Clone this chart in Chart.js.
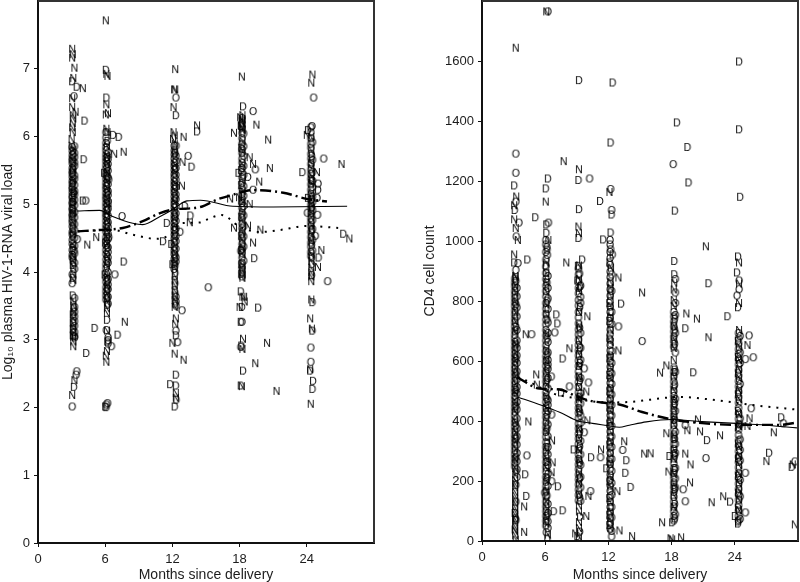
<!DOCTYPE html>
<html>
<head>
<meta charset="utf-8">
<style>
  html, body { margin: 0; padding: 0; background: #fff; }
  #viralChart, #cd4Chart { position: absolute; top: 0; }
  #viralChart { left: 0; }
  #cd4Chart { left: 422px; }
</style>
<script src="https://cdn.jsdelivr.net/npm/chart.js@4"></script>
</head>
<body>
<canvas id="viralChart" width="376" height="582"></canvas>
<canvas id="cd4Chart" width="378" height="582"></canvas>
<script>
// [months, log10 viral load]
const viralN3 = [[3.05,7.28],[3.1,7.2],[3.05,7.15],[3.25,7],[3.15,6.85],[4,6.7],[3.05,6.55],[3.05,6.42],[3.35,6.35],[3.1,6.3],[3.15,6.25],[3.1,6.18],[3.05,6.12],[3.1,6.05],[3,5.95],[3,5.85],[4.4,4.39],[3.25,2.39],[3.05,2.17]];
const viralD3 = [[3.05,6.8],[3.45,6.72],[4.15,6.22],[4.07,5.65],[3.1,5.5],[3.2,5.15],[3.1,4.85],[3.25,4.3],[3.1,3.9],[3.2,3.45],[3.1,3.05],[3.3,3.02],[3.2,2.29],[4.3,2.79],[4,5.04]];
const viralO3 = [[3.2,6.58],[4.25,5.04],[3.5,4.47],[3.45,2.52],[3.4,2.47],[3.05,2]];
const viralN6 = [[6.05,7.7],[6.1,6.91],[6.2,6.88],[6.1,6.46],[6.05,6.31],[6.25,6.33],[6.1,6.1],[6.2,6.05],[6.8,5.73],[7.65,5.76],[6.3,5],[7.75,3.25],[6.15,2.82],[6.05,2.75],[6.1,2.66],[5.2,4.5]];
const viralD6 = [[6.05,6.97],[6.1,6.56],[6.7,6.01],[7.2,5.98],[5.9,5.45],[6.35,4.5],[6,4.42],[7.65,4.14],[5.95,3.95],[6.15,3.28],[7.1,3.06],[5.05,3.16],[6,2],[6.1,1.99]];
const viralO6 = [[6.85,3.95],[6.1,3.13],[6.55,2.89],[6.1,2.03],[6.2,2.05],[7.5,4.81],[6.3,5.35]];
const viralN12 = [[12.25,6.98],[12.15,6.68],[12.25,6.68],[12.1,6.42],[12.1,6.05],[12.2,6],[12.05,5.95],[13,5.98],[12.9,5.61],[12.85,5.26],[13.55,4.72],[12.3,3.3],[12.25,3.22],[12,2.94],[12.2,2.78],[13,2.69],[12.3,2.2],[12.3,2.13],[14.2,6.15]];
const viralD12 = [[12.3,6.3],[12.35,5.85],[13.7,5.54],[13.1,4.96],[13.6,4.82],[12.7,4.58],[11.5,4.71],[11.15,4.44],[11.9,4.4],[12,4.1],[12.3,3.05],[12.3,2.47],[11.8,2.33],[12.3,2.31],[12.35,2.1],[12.2,2],[14.2,6.06]];
const viralO12 = [[12.3,6.56],[13.4,5.7],[12.85,3.42],[12.45,2.95],[12.3,3.12],[15.2,3.76]];
const viralN18 = [[18.2,6.87],[18.05,6.27],[18.2,6.22],[18.1,6.15],[18.25,6.1],[19.5,6.16],[17.5,6.04],[20.55,5.94],[18.9,5.68],[19.2,5.58],[20.7,5.52],[19.75,5.32],[17.15,5.07],[17.95,5.09],[18.9,4.99],[17.5,4.64],[18.75,4.67],[19.85,4.61],[19.2,4.42],[18.4,3.62],[18.45,3.55],[18,3.47],[18.3,3],[18.25,2.85],[20.45,2.94],[19.4,2.64],[18.2,2.3],[21.3,2.23]];
const viralD18 = [[18.3,6.43],[17.9,5.45],[18.75,5.39],[19.3,4.19],[18.1,3.7],[19.65,3.46],[18.2,3.47],[18.1,3.25],[18.15,2.9],[18.3,2.53],[18.1,2.31]];
const viralO18 = [[19.2,6.36],[19.4,5.5],[19.2,5.2],[18.1,4.3],[18.2,3.25],[18.1,2.88]];
const viralN24 = [[24.5,6.9],[24.4,6.78],[24,6.01],[24.9,5.46],[27.1,5.58],[27.8,4.48],[25.3,4.31],[25,4.06],[24.3,3.3],[24.45,3.15],[24.3,2.55],[24.35,2.04]];
const viralD24 = [[24.1,6.08],[23.6,5.46],[25,5.2],[24.1,5.08],[25.05,4.2],[24.5,3.54],[24.5,3.12],[24.3,2.53],[24.55,2.38],[24.5,2.26],[27.25,4.55]];
const viralO24 = [[24.6,6.56],[24.45,6.14],[25.5,5.66],[25,5.29],[24.9,5.08],[24.05,4.86],[24.95,4.83],[24.75,4.52],[25.85,3.85],[24.35,2.87],[24.35,2.66]];

// the packed bars of each visit: y values per plotted month
const viralBarO3a = [5.83,5.77,5.71,5.66,5.63,5.59,5.52,5.47,5.44,5.39,5.33,5.29,5.24,5.21,5.16,5.11,5.08,5.02,4.99,4.93,4.9,4.84,4.81,4.76,4.72,4.66,4.58,4.54,4.46,4.4,4.31,4.24,4.2,3.95,3.82];
const viralBarO3b = [5.84,5.74,5.68,5.6,5.55,5.41,5.36,5.27,5.18,5.13,5.05,4.97,4.87,4.79,4.69,4.6,4.49,4.37,4.26,4.12,4.03,3.6,3.47,3.4,3.33,3.26,3.19,3.1,3.04];
const viralBarN3 = [5.79,5.62,5.5,5.34,5.17,5.03,4.86,4.71,4.55,4.38,4.22,4.15,4.06,3.95,3.87,3.56,3.49,3.39,3.31,3.22,3.16,3.09,3.03,2.96,2.89];
const viralBarD3 = [5.72,5.44,5.3,5.02,4.92,4.63,4.52,4.34,4.17,4.09,3.64,3.36,3.24,3.14];
const viralBarO6a = [6.05,5.97,5.89,5.83,5.78,5.72,5.67,5.62,5.56,5.51,5.45,5.41,5.36,5.3,5.25,5.21,5.15,5.1,5.06,5,4.95,4.89,4.84,4.8,4.74,4.68,4.63,4.58,4.5,4.44,4.38,4.31,4.25,4.17,4.1,4.04,3.97,3.9,3.84,3.76,3.7,3.64,3.58];
const viralBarO6b = [5.75,5.65,5.58,5.48,5.38,5.28,5.18,5.12,5.03,4.92,4.82,4.72,4.65,4.55,4.47,4.35,4.28,4.2,4.12,3.98,3.88,3.8,3.73,3.62,3.52,3.02,2.98,2.93];
const viralBarN6 = [5.85,5.7,5.6,5.46,5.33,5.22,5.08,4.98,4.86,4.75,4.6,4.5,4.4,4.22,4.08,3.92,3.78,3.66,3.55,3.45,3.38,3.12];
const viralBarD6 = [5.92,5.68,5.53,5.4,5.16,4.9,4.7,4.34,4.15,3.86,3.74,3.6,3.5,2.96];
const viralBarO12a = [5.85,5.78,5.72,5.66,5.6,5.55,5.49,5.43,5.38,5.32,5.27,5.21,5.16,5.1,5.04,4.99,4.94,4.88,4.82,4.77,4.71,4.65,4.6,4.54,4.48,4.42,4.36,4.3,4.25,4.18,4.11,4.03];
const viralBarO12b = [5.7,5.62,5.52,5.42,5.35,5.24,5.13,5.06,4.96,4.85,4.74,4.63,4.52,4.44,4.33,4.2,4.14,3.62,3.55,3.49];
const viralBarN12 = [5.88,5.76,5.58,5.46,5.3,5.18,5.02,4.9,4.78,4.66,4.5,4.38,4.27,4.15,4.05,3.93,3.86,3.79,3.71,3.64,3.57,3.47];
const viralBarD12 = [5.74,5.51,5.25,5.08,4.8,4.61,4.23,4.08,3.97,3.82,3.68,3.52];
const viralBarO18a = [6.26,6.19,6.12,6.04,5.96,5.88,5.8,5.74,5.66,5.6,5.52,5.46,5.38,5.3,5.22,5.14,5.07,5,4.93,4.85,4.78,4.7,4.63,4.55,4.48,4.4,4.33,4.27,4.2,4.12,4.05,3.98,3.92];
const viralBarO18b = [6.03,5.84,5.7,5.55,5.42,5.25,5.11,4.96,4.82,4.66,4.51,4.36,4.15];
const viralBarN18 = [6.3,6.24,6.18,6.08,5.92,5.77,5.58,5.34,5.18,5.03,4.88,4.74,4.58,4.45,4.35,4.25,4.08,4.02,3.95,3.9,3.62];
const viralBarD18 = [6.14,5.82,5.49,5.27,5.04,4.8,4.52,4.31,4.1,3.96];
const viralBarO24a = [6.12,6.05,5.96,5.88,5.82,5.73,5.66,5.58,5.5,5.43,5.36,5.28,5.2,5.13,5.05,4.98,4.92,4.85,4.78,4.72,4.66,4.58,4.5,4.42,4.36,4.28,4.22];
const viralBarO24b = [5.9,5.64,5.46,5.33,5.24,5.1,5.02,4.9,4.75,4.62,4.46,4.3];
const viralBarN24 = [5.98,5.78,5.6,5.52,5.4,5.3,5.15,5,4.88,4.8,4.68,4.55,4.45,4.25,4.15,4.05,3.98,3.92,3.85,3.58];
const viralBarD24 = [5.7,5.34,5.06,4.94,4.6,4.39,4.2,4.1,3.94];

// [months, CD4 count]
const cd4N3 = [[3.2,1641],[3.25,1145],[3.05,1116],[3.05,1069],[3.2,1040],[3.4,1000],[3.05,952],[3.2,877],[4.15,686],[3.2,2],[4.4,395],[4,112],[4,27],[3.1,35]];
const cd4D3 = [[3.05,1182],[3.1,1100],[3.05,925],[4.3,935],[3.1,90],[3.2,72],[4.1,219],[4.2,147]];
const cd4O3 = [[3.2,1288],[3.2,1224],[3.2,1128],[3.5,1058],[3.25,1012],[3.4,923],[3.2,900],[4.7,686],[4.25,282]];
const cd4N6 = [[6.1,1762],[6.05,1128],[6.3,1000],[6.1,925],[5.15,552],[5.2,518],[6.65,332],[6.7,259],[6.6,226],[6.25,18]];
const cd4D6 = [[6.25,1205],[6.05,1172],[5.05,1076],[6.1,1052],[6.1,1024],[6.05,916],[7.05,752],[7.15,722],[7.65,605],[6.6,545],[7.5,492],[7.2,179],[6.8,96],[6.2,5],[7.65,99]];
const cd4O6 = [[6.25,1762],[6.3,1058],[6.15,976],[6.2,950],[6.9,692],[6.6,418],[6.6,196],[5.95,158],[6.1,26]];
const cd4N9 = [[9.2,1236],[9.15,1045],[9.2,1023],[7.75,1263],[8,925],[10,746],[8.3,639],[9.9,495],[10,399],[11.3,302],[10.1,147],[9.9,80],[8.85,22]];
const cd4D9 = [[9.2,1533],[9.15,1200],[11.2,1130],[9.2,1103],[9.15,1007],[11.5,1002],[9.5,935],[9.1,914],[9.05,865],[9.4,848],[8.7,302],[10.35,276],[11.8,239],[9.05,13]];
const cd4O9 = [[10.2,1205],[9.25,888],[9.7,572],[10.1,525],[8.3,512],[9.7,359],[11.25,276],[10.3,163]];
const cd4N12 = [[12.1,1160],[12.25,908],[12.95,875],[12.95,632],[13.5,329],[12.85,163],[13.05,32],[14.25,13],[15.2,825]];
const cd4D12 = [[12.4,1525],[12.2,1325],[12.3,1085],[12.2,1025],[12.4,952],[13.2,788],[13.7,266],[13.6,224],[14.1,177]];
const cd4O12 = [[12.2,1170],[12.3,1100],[12.2,969],[12.95,712],[15.2,663],[13.35,300]];
const cd4N18 = [[18.25,858],[19.4,755],[20.4,738],[21.25,979],[21.5,676],[17.5,582],[16.9,558],[20.5,402],[19.5,366],[20.7,362],[22.6,349],[17.5,356],[15.4,288],[16,289],[19.3,288],[19.8,252],[17.7,228],[19.75,192],[21.8,126],[17.1,59],[17.9,6],[18.9,9],[18.05,2]];
const cd4D18 = [[18.5,1392],[19.5,1310],[19.6,1192],[18.3,1098],[18.25,930],[18.25,886],[19.3,706],[20.05,559],[21.35,333],[21.5,856],[17.8,280],[18.05,59]];
const cd4O18 = [[18.15,1253],[18.35,870],[19.3,383],[21.25,273],[19.1,169],[19.3,129]];
const cd4N24 = [[24.4,925],[25.2,650],[25.4,406],[27.7,359],[27,263],[29.7,52],[29.5,252],[25.2,380],[22.9,146]];
const cd4D24 = [[24.4,1595],[24.4,1369],[24.5,1144],[24.3,945],[24.2,892],[23.3,746],[23.55,128],[24,80],[24.3,55],[28.4,409],[27.25,291],[29.4,244]];
const cd4O24 = [[24.4,865],[24.4,836],[24.2,815],[25.35,682],[25.75,609],[25,603],[25.55,439],[25,224],[25,92],[28.6,389],[29.7,262]];

const cd4BarO3a = [872,858,846,830,818,805,792,780,765,752,738,725,712,698,684,672,660,646,634,620,608,596,582,570,558,545,530,518,505,494,480,468,454,441,428,415,402,390,378,365,350,338,325,312,298,285,272,258,245];
const cd4BarO3b = [840,812,775,745,700,665,640,615,590,562,535,510,488,460,435,405,372,345,318,290,262,235,210];
const cd4BarN3 = [880,850,825,795,760,730,695,655,625,600,575,548,522,492,462,430,395,360,332,305,270,240,218,200,188,175,160,148,135,122,108,96,84,70,58,44,30,16];
const cd4BarD3 = [864,786,710,652,605,552,500,446,382,338,276,228,184,128,66];
const cd4BarO6a = [1000,985,960,935,912,890,870,848,830,812,790,772,754,735,718,700,682,665,648,630,612,596,580,562,545,528,510,492,476,460,442,426,410,392,376,360,344,326,310,294,278,260,244,228,210,194,178,162,145,128,112,96,80,64,48];
const cd4BarO6b = [880,840,805,770,725,690,660,625,600,585,570,540,505,465,450,430,385,345,310,285,250,220,180,120,90,62,40];
const cd4BarN6 = [890,860,828,785,752,690,635,600,555,520,480,440,400,365,300,270,240,200,165,130,105,75,55];
const cd4BarD6 = [968,858,798,735,672,618,576,534,470,418,372,322,262,206,148,82];
const cd4BarO9a = [905,885,862,840,822,800,782,760,742,722,702,685,668,650,632,615,598,580,562,545,526,510,492,476,458,440,424,406,388,372,354,338,320,304,286,270,252,236,218,202,185,168,150,132];
const cd4BarO9b = [810,790,690,640,600,540,490,455,415,390,330,285,250,210,175,130];
const cd4BarN9 = [915,870,830,760,715,665,620,580,545,510,470,435,370,340,300,265,225,190,155,115,95,60,40,12];
const cd4BarD9 = [845,776,708,642,590,532,478,428,362,312,258,206,142,78,28];
const cd4BarO12a = [1000,985,960,940,918,895,876,855,836,815,796,778,760,740,722,702,685,668,650,632,615,596,578,560,542,524,506,488,470,452,434,416,398,380,362,344,326,308,290,272,254,236,218,200,182,164,146,128,110,92,74,56,38];
const cd4BarO12b = [885,830,760,720,630,590,555,520,485,450,415,380,345,310,270,230,190,150,110,75,30,12];
const cd4BarN12 = [860,840,815,780,745,700,660,610,575,540,505,470,430,395,360,330,290,255,210,175,125,95,65,40];
const cd4BarD12 = [925,790,730,672,606,550,496,442,388,318,262,196,140,84,50];
const cd4BarO18a = [760,745,728,712,695,678,662,645,575,560,545,528,512,496,480,464,448,432,416,400,384,368,352,336,320,304,288,272,256,240,224,208,192,176,160,144,128,112,96,80,65];
const cd4BarO18b = [825,790,750,690,625,560,470,430,360,320,290,240,205,175,85];
const cd4BarN18 = [835,800,780,715,670,640,600,545,500,470,440,410,385,345,300,270,220,185,150,110];
const cd4BarD18 = [738,702,654,568,518,456,402,338,282,234,170,120,72];
const cd4BarO24a = [690,672,655,636,620,602,585,566,548,530,512,494,476,458,440,422,404,386,368,350,332,314,296,278,260,242,224,206,188,170,152,134,116,98,80,66];
const cd4BarO24b = [680,625,590,520,405,385,335,300,265,200,145,70];
const cd4BarN24 = [855,790,700,645,600,570,540,500,470,420,380,310,280,250,220,190,165,135,100];
const cd4BarD24 = [776,664,610,556,486,430,376,322,272,214,158,108,62];

// smooth fitted curves for the three groups
const viralSolid = [[3.45,4.9],[5.5,4.91],[6.67,4.82],[8.46,4.72],[9.36,4.7],[10.9,4.82],[12,4.92],[13.3,5.05],[14.5,5.06],[17.4,4.97],[21,4.96],[27.6,4.97]];
const viralDashDot = [[3.55,4.6],[5.5,4.62],[7.57,4.65],[9.36,4.75],[10.9,4.87],[12,4.92],[14.5,4.96],[16,5.07],[17.4,5.14],[19.2,5.21],[21.9,5.17],[24,5.08],[25.8,5.04]];
const viralDotted = [[3.55,4.6],[6.67,4.62],[8.46,4.55],[10.6,4.49],[12,4.58],[12.7,4.72],[14.5,4.73],[15,4.77],[16.4,4.84],[18,4.67],[19.8,4.59],[21.6,4.62],[24,4.68],[26.8,4.65]];
const cd4Solid = [[3.38,480],[6.13,446],[7.64,425],[8.97,402],[10.48,392],[11.9,385],[13.04,379],[13.99,386],[15.6,397],[17.96,405],[20.9,398],[24.1,392],[26.96,386],[29.9,377]];
const cd4DashDot = [[3.38,545],[5.46,508],[7.36,505],[8.97,482],[10.2,468],[11.8,460],[13.04,455],[15.2,430],[18.06,405],[20.9,393],[24.1,387],[28.2,387],[29.9,395]];
const cd4Dotted = [[3.38,545],[4.2,535],[6.7,492],[8.97,475],[9.9,468],[12.2,462],[13.8,463],[18.8,480],[21.6,472],[26,452],[29.9,438]];

const xTicks = [0, 6, 12, 18, 24];
const viralTicks = [0, 1, 2, 3, 4, 5, 6, 7];
const cd4Ticks = [0, 200, 400, 600, 800, 1000, 1200, 1400, 1600];

const FONT = '"Liberation Sans", Arial, sans-serif';
const INK = '#000';

// the letter markers are little canvases handed to Chart.js as point styles
function letterMark(letter) {
  const c = document.createElement('canvas');
  c.width = 14;
  c.height = 14;
  const g = c.getContext('2d');
  g.font = '10.5px ' + FONT;
  g.fillStyle = INK;
  g.textAlign = 'center';
  g.textBaseline = 'middle';
  g.fillText(letter, 7, 7.5);
  return c;
}

const marks = { N: letterMark('N'), D: letterMark('D'), O: letterMark('O') };

function atMonth(month, values) {
  return values.map(v => [month, v]);
}

function toXY(pairs) {
  return pairs.map(p => ({ x: p[0], y: p[1] }));
}

function letterSet(letter, pairs) {
  return {
    label: letter,
    data: toXY(pairs),
    showLine: false,
    pointStyle: marks[letter],
    pointRadius: 5
  };
}

function curveSet(label, pairs, width, dash) {
  return {
    label: label,
    data: toXY(pairs),
    showLine: true,
    borderColor: '#000',
    borderWidth: width,
    borderDash: dash,
    cubicInterpolationMode: 'monotone',
    pointRadius: 0,
    order: -1
  };
}

const frame = {
  id: 'frame',
  afterDraw(chart) {
    const a = chart.chartArea;
    const ctx = chart.ctx;
    ctx.save();
    ctx.strokeStyle = '#333';
    ctx.lineWidth = 2;
    ctx.beginPath();
    ctx.moveTo(a.left, a.top);
    ctx.lineTo(a.right, a.top);
    ctx.lineTo(a.right, a.bottom);
    ctx.stroke();
    ctx.restore();
  }
};

function panel(id, sets, yMax, yTicks, yTitle, yWidth, xHeight) {
  new Chart(document.getElementById(id), {
    type: 'scatter',
    data: { datasets: sets },
    plugins: [frame],
    options: {
      responsive: false,
      animation: false,
      layout: { autoPadding: false, padding: { top: 1, right: 2, left: 0, bottom: 0 } },
      plugins: { legend: { display: false }, tooltip: { enabled: false } },
      scales: {
        x: {
          type: 'linear',
          min: 0,
          max: 30,
          afterBuildTicks(s) { s.ticks = xTicks.map(v => ({ value: v })); },
          afterFit(s) { s.height = xHeight; s.paddingLeft = 0; s.paddingRight = 0; },
          border: { color: '#111', width: 2 },
          grid: { drawOnChartArea: false, tickLength: 4, tickColor: '#111', tickWidth: 1 },
          ticks: { color: '#1c1c1c', padding: 5, maxRotation: 0, font: { family: FONT, size: 13 } },
          title: { display: true, text: 'Months since delivery', color: '#1c1c1c', padding: { top: 0, bottom: -2 }, font: { family: FONT, size: 14 } }
        },
        y: {
          min: 0,
          max: yMax,
          afterBuildTicks(s) { s.ticks = yTicks.map(v => ({ value: v })); },
          afterFit(s) { s.width = yWidth; s.paddingTop = 0; s.paddingBottom = 0; },
          border: { color: '#111', width: 2 },
          grid: { drawOnChartArea: false, tickLength: 4, tickColor: '#111', tickWidth: 1 },
          ticks: { color: '#1c1c1c', padding: 4, callback: v => String(v), font: { family: FONT, size: 13 } },
          title: { display: true, text: yTitle, color: '#1c1c1c', padding: { top: 0, bottom: 0 }, font: { family: FONT, size: 14 } }
        }
      }
    }
  });
}

panel('viralChart', [
  letterSet('N', [].concat(viralN3, viralN6, viralN12, viralN18, viralN24,
    atMonth(3.15, viralBarN3), atMonth(6.15, viralBarN6), atMonth(12.2, viralBarN12), atMonth(18.25, viralBarN18), atMonth(24.4, viralBarN24))),
  letterSet('D', [].concat(viralD3, viralD6, viralD12, viralD18, viralD24,
    atMonth(3.1, viralBarD3), atMonth(6.2, viralBarD6), atMonth(12.25, viralBarD12), atMonth(18.15, viralBarD18), atMonth(24.45, viralBarD24))),
  letterSet('O', [].concat(viralO3, viralO6, viralO12, viralO18, viralO24,
    atMonth(3.05, viralBarO3a), atMonth(3.25, viralBarO3b), atMonth(6.05, viralBarO6a), atMonth(6.25, viralBarO6b),
    atMonth(12.15, viralBarO12a), atMonth(12.3, viralBarO12b), atMonth(18.2, viralBarO18a), atMonth(18.35, viralBarO18b),
    atMonth(24.35, viralBarO24a), atMonth(24.5, viralBarO24b))),
  curveSet('solid', viralSolid, 1.1, []),
  curveSet('dash-dot', viralDashDot, 2.4, [11, 4, 2, 4]),
  curveSet('dotted', viralDotted, 2, [2, 6])
], 8, viralTicks, 'Log\u2081\u2080 plasma HIV-1-RNA viral load', 38, 39);

panel('cd4Chart', [
  letterSet('N', [].concat(cd4N3, cd4N6, cd4N9, cd4N12, cd4N18, cd4N24,
    atMonth(3.15, cd4BarN3), atMonth(6.1, cd4BarN6), atMonth(9.2, cd4BarN9), atMonth(12.2, cd4BarN12), atMonth(18.2, cd4BarN18), atMonth(24.4, cd4BarN24))),
  letterSet('D', [].concat(cd4D3, cd4D6, cd4D9, cd4D12, cd4D18, cd4D24,
    atMonth(3.25, cd4BarD3), atMonth(6.2, cd4BarD6), atMonth(9.3, cd4BarD9), atMonth(12.1, cd4BarD12), atMonth(18.3, cd4BarD18), atMonth(24.3, cd4BarD24))),
  letterSet('O', [].concat(cd4O3, cd4O6, cd4O9, cd4O12, cd4O18, cd4O24,
    atMonth(3.1, cd4BarO3a), atMonth(3.3, cd4BarO3b), atMonth(6.05, cd4BarO6a), atMonth(6.25, cd4BarO6b),
    atMonth(9.15, cd4BarO9a), atMonth(9.35, cd4BarO9b), atMonth(12.15, cd4BarO12a), atMonth(12.3, cd4BarO12b),
    atMonth(18.2, cd4BarO18a), atMonth(18.35, cd4BarO18b), atMonth(24.35, cd4BarO24a), atMonth(24.5, cd4BarO24b))),
  curveSet('solid', cd4Solid, 1.1, []),
  curveSet('dash-dot', cd4DashDot, 2.4, [11, 4, 2, 4]),
  curveSet('dotted', cd4Dotted, 2, [2, 6])
], 1800, cd4Ticks, 'CD4 cell count', 60, 41);
</script>
</body>
</html>
